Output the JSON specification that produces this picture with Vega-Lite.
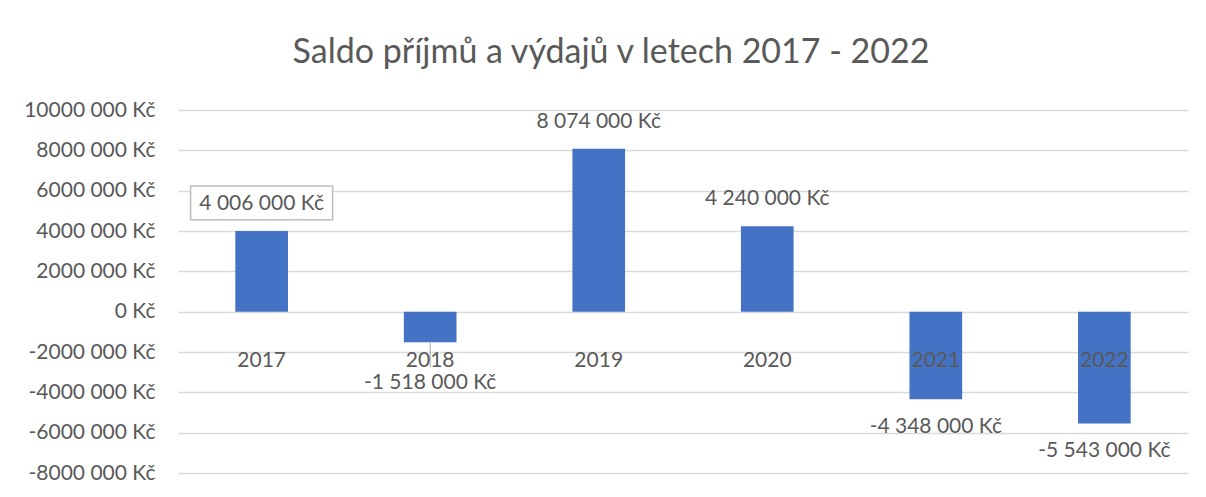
{
  "$schema": "https://vega.github.io/schema/vega-lite/v6.json",
  "width": 1010,
  "height": 363,
  "autosize": "none",
  "padding": {"left": 178, "top": 110, "right": 18, "bottom": 24},
  "background": "white",
  "config": {
    "locale": {"number": {"decimal": ",", "thousands": " ", "grouping": [3], "currency": ["", " Kč"], "minus": "-"}},
    "view": {"stroke": null},
    "font": "Lato"
  },
  "title": {
    "text": "Saldo příjmů a výdajů v letech 2017 - 2022",
    "anchor": "middle",
    "frame": "group",
    "dx": -72,
    "baseline": "alphabetic",
    "offset": 2,
    "fontSize": 34,
    "font": "Lato",
    "fontWeight": "normal",
    "color": "#595959"
  },
  "data": {
    "values": [
      {"rok": "2017", "saldo": 4006000},
      {"rok": "2018", "saldo": -1518000},
      {"rok": "2019", "saldo": 8074000},
      {"rok": "2020", "saldo": 4240000},
      {"rok": "2021", "saldo": -4348000},
      {"rok": "2022", "saldo": -5543000}
    ]
  },
  "encoding": {
    "x": {
      "field": "rok",
      "type": "nominal",
      "sort": null,
      "scale": {"paddingInner": 0.6875, "paddingOuter": 0.34},
      "axis": {
        "title": null,
        "orient": "bottom",
        "offset": -162,
        "domain": false,
        "ticks": false,
        "labelAngle": 0,
        "labelPadding": 38,
        "labelFont": "Lato",
        "labelFontSize": 21,
        "labelColor": "#595959",
        "zindex": 2
      }
    }
  },
  "layer": [
    {
      "mark": {"type": "bar", "color": "#4472C4"},
      "encoding": {
        "y": {
          "field": "saldo",
          "type": "quantitative",
          "scale": {"domain": [-8000000, 10000000], "nice": false, "zero": true},
          "axis": {
            "title": null,
            "values": [-8000000, -6000000, -4000000, -2000000, 0, 2000000, 4000000, 6000000, 8000000, 10000000],
            "domain": false,
            "ticks": false,
            "grid": true,
            "gridColor": "#D9D9D9",
            "gridWidth": 1.5,
            "labelPadding": 23,
            "labelFont": "Lato",
            "labelFontSize": 21,
            "labelColor": "#595959",
            "labelExpr": "datum.value == 0 ? '0 Kč' : (datum.value / 1000) + ' 000 Kč'"
          }
        }
      }
    },
    {
      "transform": [{"filter": "datum.rok == '2018'"}],
      "mark": {"type": "rule", "color": "#A6A6A6", "strokeWidth": 1, "y2Offset": 25},
      "encoding": {
        "y": {"field": "saldo", "type": "quantitative"},
        "y2": {"field": "saldo"}
      }
    },
    {
      "transform": [{"filter": "datum.rok == '2017'"}],
      "mark": {
        "type": "point",
        "shape": "M-1,-0.239H1V0.239H-1Z",
        "size": 20164,
        "filled": true,
        "fill": "white",
        "stroke": "#BFBFBF",
        "strokeWidth": 1.5,
        "opacity": 1,
        "yOffset": -28
      },
      "encoding": {
        "y": {"field": "saldo", "type": "quantitative"}
      }
    },
    {
      "transform": [{"filter": "datum.saldo > 0"}],
      "mark": {"type": "text", "baseline": "middle", "align": "center", "dy": -27, "font": "Lato", "fontSize": 21, "color": "#595959"},
      "encoding": {
        "y": {"field": "saldo", "type": "quantitative"},
        "text": {"field": "saldo", "type": "quantitative", "format": "$,d"}
      }
    },
    {
      "transform": [{"filter": "datum.saldo < 0 && datum.rok != '2018'"}],
      "mark": {"type": "text", "baseline": "middle", "align": "center", "dy": 28, "font": "Lato", "fontSize": 21, "color": "#595959"},
      "encoding": {
        "y": {"field": "saldo", "type": "quantitative"},
        "text": {"field": "saldo", "type": "quantitative", "format": "$,d"}
      }
    },
    {
      "transform": [{"filter": "datum.rok == '2018'"}],
      "mark": {"type": "text", "baseline": "middle", "align": "center", "dy": 41, "font": "Lato", "fontSize": 21, "color": "#595959"},
      "encoding": {
        "y": {"field": "saldo", "type": "quantitative"},
        "text": {"field": "saldo", "type": "quantitative", "format": "$,d"}
      }
    }
  ]
}
